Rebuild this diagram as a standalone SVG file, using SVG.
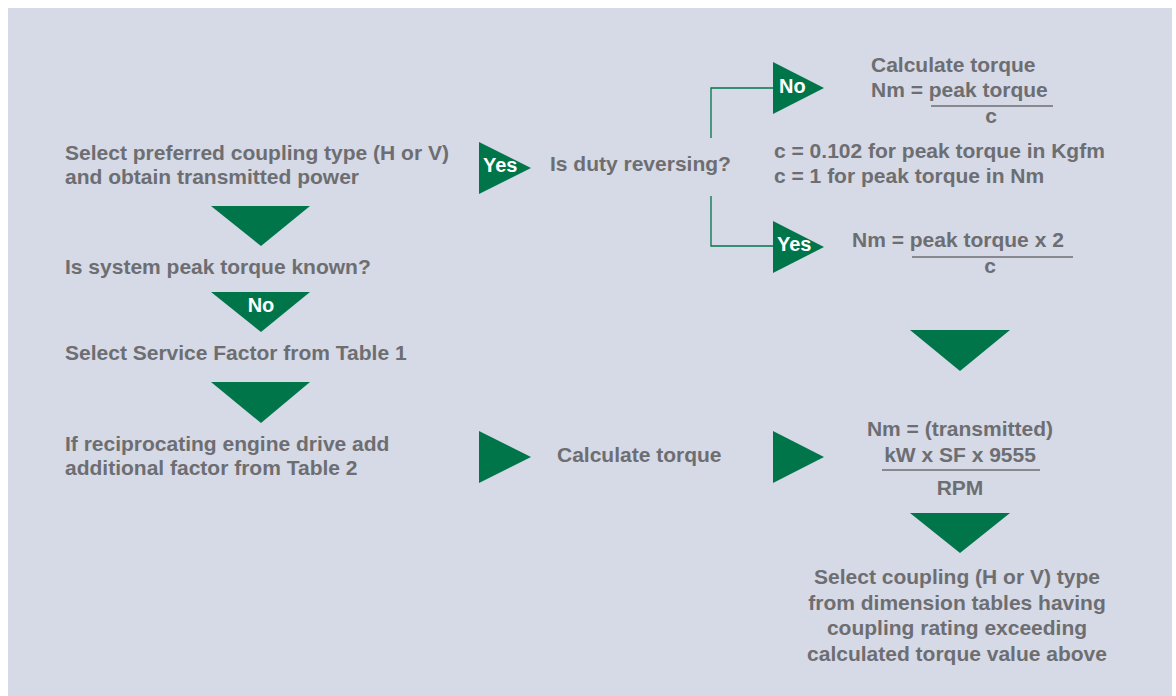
<svg xmlns="http://www.w3.org/2000/svg" width="1176" height="696" viewBox="0 0 1176 696">
<style>
.t{font-family:"Liberation Sans",Arial,sans-serif;font-weight:bold;font-size:21px;fill:#6d6e71}
.m{text-anchor:middle}
.w{font-family:"Liberation Sans",Arial,sans-serif;font-weight:bold;font-size:20px;fill:#ffffff}
.tri{fill:#00754a}
.ln{stroke:#00754a;stroke-width:1.3;fill:none}
.ul{stroke:#6d6e71;stroke-width:1.3}
</style>
<rect x="0" y="0" width="1176" height="696" fill="#ffffff"/>
<rect x="8" y="8" width="1164" height="688" fill="#d6d9e6"/>
<g id="connectors">
<polyline class="ln" points="773,88 711,88 711,138"/>
<polyline class="ln" points="711,196 711,246 773,246"/>
</g>
<g id="n-start">
<text class="t" x="65" y="160">Select preferred coupling type (H or V)</text>
<text class="t" x="65" y="184">and obtain transmitted power</text>
</g>
<g id="a1"><polygon class="tri" points="211,206 310,206 261,246"/></g>
<g id="n-known"><text class="t" x="65" y="274">Is system peak torque known?</text></g>
<g id="a-no"><polygon class="tri" points="211,292 310,292 261,332"/><text class="w m" x="261" y="312">No</text></g>
<g id="n-sf"><text class="t" x="65" y="360">Select Service Factor from Table 1</text></g>
<g id="a3"><polygon class="tri" points="211,382 310,382 261,423"/></g>
<g id="n-recip">
<text class="t" x="65" y="451">If reciprocating engine drive add</text>
<text class="t" x="65" y="475">additional factor from Table 2</text>
</g>
<g id="a-yes1"><polygon class="tri" points="479,142 479,194 531,168"/><text class="w" x="483" y="172">Yes</text></g>
<g id="n-duty"><text class="t" x="550" y="171">Is duty reversing?</text></g>
<g id="a-no2"><polygon class="tri" points="773,62 773,114 824,88"/><text class="w" x="779" y="93">No</text></g>
<g id="n-calc1">
<text class="t" x="871" y="72">Calculate torque</text>
<text class="t" x="871" y="97">Nm = peak torque</text>
<line class="ul" x1="931" y1="106" x2="1053" y2="106"/>
<text class="t m" x="991" y="123">c</text>
</g>
<g id="n-cnote">
<text class="t" x="774" y="158">c = 0.102 for peak torque in Kgfm</text>
<text class="t" x="774" y="183">c = 1 for peak torque in Nm</text>
</g>
<g id="a-yes2"><polygon class="tri" points="773,221 773,273 824,247"/><text class="w" x="777" y="251">Yes</text></g>
<g id="n-calc2">
<text class="t" x="852" y="247">Nm = peak torque x 2</text>
<line class="ul" x1="912" y1="257" x2="1073" y2="257"/>
<text class="t m" x="990" y="273">c</text>
</g>
<g id="a4"><polygon class="tri" points="910,330 1010,330 960,371"/></g>
<g id="a5"><polygon class="tri" points="479,431 479,483 531,457"/></g>
<g id="n-calc3"><text class="t" x="557" y="462">Calculate torque</text></g>
<g id="a6"><polygon class="tri" points="773,431 773,483 824,457"/></g>
<g id="n-formula">
<text class="t m" x="960" y="436">Nm = (transmitted)</text>
<text class="t m" x="960" y="462">kW x SF x 9555</text>
<line class="ul" x1="882" y1="470" x2="1040" y2="470"/>
<text class="t m" x="960" y="495">RPM</text>
</g>
<g id="a7"><polygon class="tri" points="910,513 1010,513 960,553"/></g>
<g id="n-select">
<text class="t m" x="957" y="584">Select coupling (H or V) type</text>
<text class="t m" x="957" y="610">from dimension tables having</text>
<text class="t m" x="957" y="635">coupling rating exceeding</text>
<text class="t m" x="957" y="661">calculated torque value above</text>
</g>
</svg>
